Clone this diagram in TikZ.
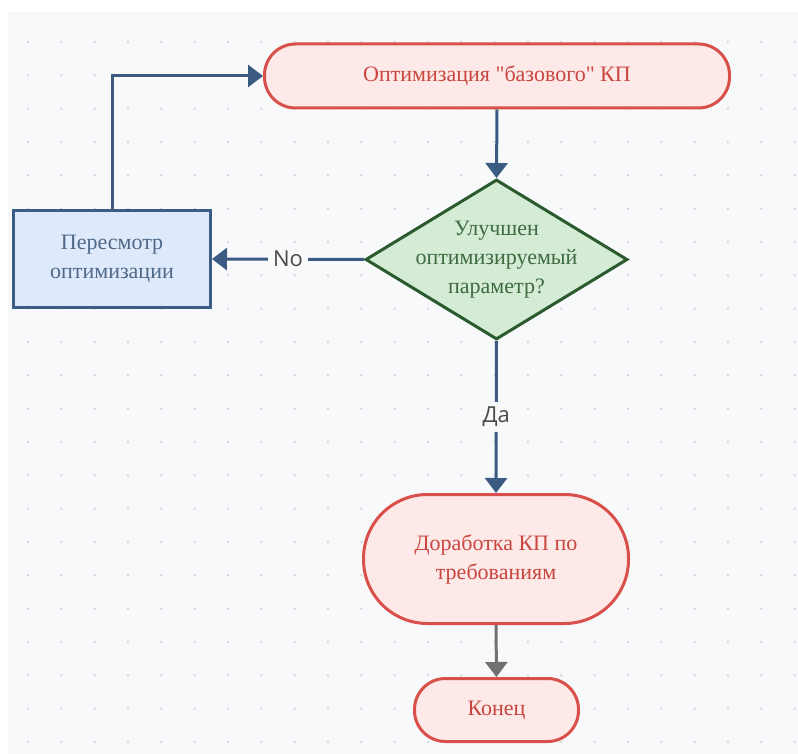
\documentclass[tikz,border=0pt]{standalone}
\usepackage{fontspec}
\setmainfont{Liberation Serif}[Ligatures=TeXOff]
\newfontfamily\labelfont{Open Sans}
\usetikzlibrary{shapes.geometric,arrows.meta}

\definecolor{paper}{HTML}{F8F9FB}
\definecolor{griddot}{HTML}{D2D6DC}
\definecolor{termline}{HTML}{D9504A}
\definecolor{termfill}{HTML}{FDE9E7}
\definecolor{termtext}{HTML}{C9453F}
\definecolor{decline}{HTML}{2B5A2E}
\definecolor{decfill}{HTML}{D4EBD6}
\definecolor{dectext}{HTML}{3E6B40}
\definecolor{boxline}{HTML}{3C5C86}
\definecolor{boxfill}{HTML}{DEEAFB}
\definecolor{boxtext}{HTML}{4F6887}
\definecolor{flowblue}{HTML}{3B5B82}
\definecolor{flowgray}{HTML}{717171}
\definecolor{answertext}{HTML}{4A4A4A}

\begin{document}
\begin{tikzpicture}[x=1pt,y=-1pt,
					line width=3pt,
					>={Triangle[width=22pt,length=15pt]},
					every node/.style={font=\fontsize{22}{29}\selectfont,align=center},
					term node/.style={rectangle,rounded corners=#1,draw=termline,fill=termfill,text=termtext},
					term node/.default=31pt,
					step node/.style={rectangle,draw=boxline,fill=boxfill,text=boxtext,
						minimum width=197pt,minimum height=97pt},
					decision node/.style={diamond,draw=decline,fill=decfill,inner sep=0pt,
						minimum width=262pt,minimum height=160pt},
					flow line/.style={draw=flowblue,->},
					answer/.style={font=\labelfont\fontsize{22}{26}\selectfont,text=answertext,
						fill=paper,inner sep=5pt}]

  % canvas with dotted grid
  \useasboundingbox (0,0) rectangle (798,754);
  \fill[white] (0,0) rectangle (798,754);
  \fill[paper] (8,12) rectangle (798,754);
  \foreach \i in {0,...,23}
    \foreach \j in {0,...,21}
      \fill[griddot] (28+33.33*\i,42+33.33*\j) circle (1.3pt);

  \node[term node,minimum width=465pt,minimum height=64pt] (opt) at (497,76) {Оптимизация "базового" КП};
  \node[decision node,label={[text=dectext]center:Улучшен\\оптимизируемый\\параметр?}] (dec) at (496.5,259.5) {};
  \node[step node] (rev) at (112,259) {Пересмотр\\оптимизации};
  \node[term node=64pt,minimum width=265pt,minimum height=129pt] (fix) at (496,559) {Доработка КП по\\требованиям};
  \node[term node,minimum width=164pt,minimum height=63pt] (end) at (496.5,710) {Конец};

  \draw[flow line] (opt.south) -- (dec.north);
  \draw[flow line] (dec.west) -- node[answer] {No} (rev.east);
  \draw[flow line] (rev.north) |- (opt.west);
  \draw[flow line] (dec.south) -- node[answer] {Да} (fix.north);
  \draw[flow line,draw=flowgray] (fix.south) -- (end.north);
\end{tikzpicture}
\end{document}
